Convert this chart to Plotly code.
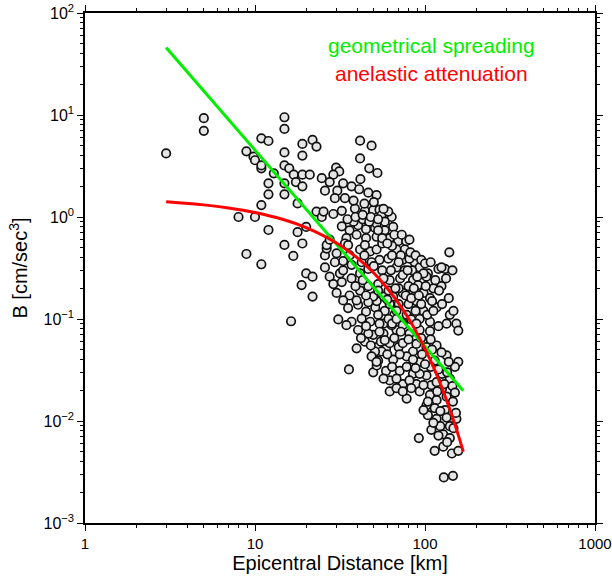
import plotly.graph_objects as go

# Observed data: epicentral distance [km] and B [cm/sec^3]
distance_km = [
    3.0, 5.0, 5.0, 10.9, 12.0, 8.9, 9.8, 10.0, 10.9, 10.9, 12.9, 12.0, 12.0, 10.9,
    14.9, 14.9, 14.9, 14.9, 14.9, 14.9, 15.9, 16.9, 17.4, 19.0, 19.0, 19.0, 19.0,
    21.0, 21.8, 23.0, 17.8, 24.7, 25.8, 23.0, 24.7, 25.3, 8.0, 10.0, 12.0, 14.9,
    8.9, 10.9, 16.8, 19.0, 17.8, 20.0, 20.0, 21.8, 25.8, 25.8, 26.4, 16.3,
    41.5, 48.5, 41.5, 47.0, 52.5, 30.0, 31.3, 28.9, 27.5, 33.0, 37.0, 41.7, 41.0,
    46.4, 51.9, 30.5, 29.5, 33.8, 28.9, 32.4, 38.7, 44.3, 49.6, 54.0, 32.4, 36.0,
    40.4, 45.0, 50.8, 34.5, 39.6, 45.0, 51.9, 26.4, 30.2, 41.5, 47.6,
    55.5, 63.7, 60.8, 51.9, 58.0, 62.0, 69.5, 77.5, 81.0, 76.0, 68.0, 51.9, 54.0,
    60.8, 68.0, 76.0, 87.0, 93.0, 104.0, 120.0, 131.0, 139.0, 125.0, 102.0, 71.4,
    85.0, 62.0, 112.0, 125.0, 53.0, 57.0, 65.0, 74.0, 85.0, 98.0, 89.0, 107.0,
    117.0, 140.0, 153.0, 134.0, 120.0, 107.0, 93.0, 78.0, 66.0, 58.0, 51.0, 74.0,
    57.0, 53.0, 58.0, 65.0, 66.0, 73.0, 74.0, 81.0, 98.0, 91.0, 80.0, 70.0, 61.0,
    51.0, 53.0, 61.0, 83.0, 98.0, 80.0, 70.0, 62.0, 52.0,
    157.0, 107.0, 93.0, 81.0, 68.0, 57.0, 49.6, 52.0, 59.0, 70.0, 85.0, 102.0,
    117.0, 134.0, 157.0, 150.0, 49.6, 53.0, 65.0, 78.0, 93.0, 114.0, 49.6, 59.0,
    71.0, 85.0, 102.0, 126.0, 140.0, 62.0, 74.0, 89.0, 109.0, 126.0, 62.0, 78.0,
    93.0, 107.0, 134.0, 102.0, 117.0, 146.0, 114.0, 131.0, 104.0, 117.0, 134.0,
    153.0, 123.0, 140.0, 109.0, 128.0, 140.0, 92.0, 114.0, 128.0, 144.0, 157.0,
    129.0, 146.0,
    54.0, 63.7, 74.0, 89.0, 62.0, 74.0, 89.0, 55.5, 71.0, 85.0, 52.0, 78.0, 93.0,
    57.0, 68.0, 81.0, 68.0, 74.0, 83.0, 98.0, 104.0, 98.0, 112.0, 120.0,
    18.8, 21.8, 27.5, 30.2, 31.6, 30.9, 39.6, 35.7, 33.0, 37.0, 33.0, 37.0, 41.5,
    46.4, 41.5, 36.0, 46.4, 49.6, 35.3, 40.4, 45.0, 37.0, 42.4, 47.6, 34.5, 40.4,
    46.4, 44.3, 50.8, 48.5, 51.9, 28.9, 32.4,
    27.5, 33.8, 35.3, 44.3, 29.5, 36.0, 42.4, 48.5, 39.6, 46.4, 33.0,
    38.0, 43.0, 47.0, 35.0, 56.0, 64.0, 72.0, 44.0, 50.0, 56.0, 63.0, 84.0, 90.0,
    57.0, 67.0, 77.0, 83.0, 95.0, 103.0, 112.0, 43.0, 39.0, 45.0, 53.0, 60.0, 68.0,
    88.0, 45.0, 55.0, 66.0, 80.0, 95.0, 108.0, 60.0, 96.0, 108.0, 120.0, 117.0,
    130.0, 64.0, 88.0, 100.0,
    39.0, 43.0, 48.0, 53.0, 57.0, 44.0, 50.0, 38.0, 56.0, 60.0,
    64.0, 70.0, 74.0, 79.0, 82.0, 88.0, 95.0, 100.0, 108.0, 86.0, 92.0, 101.0,
    110.0, 115.0, 121.0, 126.0, 133.0, 145.0, 147.0, 138.0,
    42.0, 48.0, 54.0, 58.0, 64.0, 68.0, 72.0,
    110.0, 125.0, 138.0, 145.0, 150.0, 135.0, 152.0, 147.0, 135.0, 123.0, 118.0,
]
b_value = [
    4.2, 9.3, 7.0, 5.9, 5.56, 4.4, 3.9, 3.6, 3.0, 3.2, 2.68, 2.14, 1.67, 1.31,
    9.5, 7.3, 4.3, 3.2, 2.14, 1.67, 3.0, 2.6, 2.2, 2.6, 2.0, 5.2, 4.0,
    2.6, 5.7, 4.9, 1.36, 2.4, 1.81, 1.13, 1.0, 1.13, 1.0, 1.0, 0.746, 0.532,
    0.434, 0.344, 0.415, 0.55, 0.71, 0.80, 0.28, 0.26, 0.32, 0.42, 0.49, 0.095,
    5.6, 5.0, 3.75, 3.0, 2.7, 3.05, 2.8, 2.6, 2.2, 2.14, 2.0, 2.35, 1.87,
    1.73, 1.64, 1.81, 1.53, 1.53, 1.07, 1.15, 1.21, 1.15, 1.17, 1.18, 0.81, 0.74,
    0.83, 0.76, 0.78, 0.62, 0.67, 0.62, 0.64, 0.53, 0.44, 0.48, 0.46,
    1.04, 1.0, 1.13, 0.86, 0.74, 0.62, 0.58, 0.58, 0.6, 0.48, 0.48, 0.48, 0.38,
    0.39, 0.32, 0.30, 0.36, 0.32, 0.28, 0.31, 0.31, 0.45, 0.32, 0.26, 0.25,
    0.24, 0.24, 0.20, 0.21, 0.22, 0.166, 0.166, 0.18, 0.19, 0.18, 0.15, 0.16,
    0.13, 0.11, 0.09, 0.09, 0.085, 0.094, 0.10, 0.11, 0.11, 0.12, 0.13, 0.09,
    0.09, 0.74, 0.9, 0.8, 0.67, 0.67, 0.38, 0.39, 0.28, 0.215, 0.21, 0.20, 0.19,
    0.17, 0.11, 0.10, 0.099, 0.12, 0.14, 0.14, 0.14, 0.15,
    0.077, 0.076, 0.078, 0.072, 0.078, 0.072, 0.07, 0.053, 0.051, 0.053, 0.048, 0.053,
    0.055, 0.044, 0.038, 0.034, 0.043, 0.039, 0.040, 0.043, 0.038, 0.039, 0.030, 0.031,
    0.031, 0.029, 0.028, 0.029, 0.026, 0.025, 0.023, 0.023, 0.0225, 0.0208, 0.0195, 0.0166,
    0.0195, 0.018, 0.0173, 0.0142, 0.016, 0.0155, 0.0134, 0.0128, 0.0114, 0.0105, 0.0108,
    0.0105, 0.0089, 0.0089, 0.0082, 0.0074, 0.0068, 0.0068, 0.0051, 0.0056, 0.0048, 0.0051,
    0.0028, 0.0029,
    0.09, 0.087, 0.087, 0.09, 0.058, 0.058, 0.057, 0.048, 0.045, 0.040, 0.035, 0.034, 0.029,
    0.026, 0.026, 0.025, 0.021, 0.0195, 0.021, 0.0225, 0.0155, 0.0128, 0.0096, 0.0072,
    0.215, 0.166, 0.26, 0.18, 0.28, 0.099, 0.0516, 0.032, 0.37, 0.34, 0.30, 0.25, 0.28,
    0.31, 0.19, 0.17, 0.21, 0.166, 0.128, 0.138, 0.118, 0.094, 0.101, 0.094, 0.087, 0.078,
    0.072, 0.060, 0.048, 0.043, 0.038, 0.22, 0.23,
    0.6, 0.55, 0.53, 0.53, 0.36, 0.42, 0.36, 0.36, 0.152, 0.146, 0.152,
    0.9, 0.95, 0.9, 0.95, 0.55, 0.52, 0.42, 0.42, 0.33, 0.3, 0.3, 0.3, 0.26,
    0.25, 0.2, 0.17, 0.16, 0.14, 0.11, 0.12, 0.24, 0.21, 0.17, 0.19, 0.155, 0.12,
    0.12, 0.085, 0.06, 0.065, 0.063, 0.065, 0.063, 0.045, 0.045, 0.034, 0.032, 0.024,
    0.023, 0.034, 0.033, 0.036,
    1.0, 1.05, 1.0, 0.95, 1.2, 1.35, 1.4, 1.45, 0.62, 0.55,
    0.42, 0.36, 0.27, 0.3, 0.45, 0.42, 0.38, 0.35, 0.36, 0.2, 0.17, 0.21,
    0.15, 0.24, 0.19, 0.14, 0.25, 0.3, 0.12, 0.16,
    0.065, 0.055, 0.075, 0.062, 0.09, 0.1, 0.075,
    0.05, 0.047, 0.038, 0.022, 0.019, 0.03, 0.012, 0.0085, 0.0062, 0.0125, 0.0195,
]

# Model curves
geo_distance = [3.0, 168.0]
geo_b = [46.0, 0.0198]

anel_distance = [3, 5, 7, 10, 15, 20, 30, 40, 50, 60, 70, 80, 90, 100, 110, 120,
                 130, 140, 150, 160, 168]
anel_b = [1.408, 1.315, 1.228, 1.108, 0.934, 0.787, 0.559, 0.397, 0.282, 0.2005,
          0.1424, 0.1011, 0.0719, 0.0510, 0.0363, 0.0258, 0.0183, 0.0130, 0.00923,
          0.00656, 0.00499]

x_tickvals = [1, 10, 100, 1000]
x_ticktext = ["1", "10", "100", "1000"]
y_tickvals = [1e-3, 1e-2, 1e-1, 1e0, 1e1, 1e2]
y_ticktext = ["10<sup>\u22123</sup>", "10<sup>\u22122</sup>", "10<sup>\u22121</sup>",
              "10<sup>0</sup>", "10<sup>1</sup>", "10<sup>2</sup>"]

x_minor = [m * d for d in (1, 10, 100) for m in range(2, 10)]
y_minor = [m * d for d in (1e-3, 1e-2, 1e-1, 1, 10) for m in range(2, 10)]

FONT = "Liberation Sans, Arial, Helvetica, sans-serif"

fig = go.Figure()
fig.add_trace(go.Scatter(
    x=distance_km, y=b_value, mode="markers",
    marker=dict(size=8.5, color="#e6e6e6", line=dict(color="#111111", width=1.7)),
    showlegend=False, hoverinfo="x+y"))
fig.add_trace(go.Scatter(
    x=geo_distance, y=geo_b, mode="lines",
    line=dict(color="#00ee00", width=3), showlegend=False))
fig.add_trace(go.Scatter(
    x=anel_distance, y=anel_b, mode="lines", line_shape="spline",
    line=dict(color="#ff0000", width=3), showlegend=False))

axis_common = dict(
    type="log", showgrid=False, zeroline=False,
    showline=True, linecolor="black", linewidth=1.5, mirror="ticks",
    ticks="outside", ticklen=6, tickwidth=1, tickcolor="black",
)

fig.update_xaxes(
    **axis_common, range=[0, 3],
    tickmode="array", tickvals=x_tickvals, ticktext=x_ticktext,
    tickfont=dict(size=15, color="black", family=FONT),
    minor=dict(tickmode="array", tickvals=x_minor, ticks="outside",
               ticklen=3, tickwidth=1, tickcolor="black", showgrid=False),
    title=dict(text="Epicentral Distance [km]", font=dict(size=20, color="black", family=FONT),
               standoff=3),
)
fig.update_yaxes(
    **axis_common, range=[-3, 2],
    tickmode="array", tickvals=y_tickvals, ticktext=y_ticktext,
    tickfont=dict(size=16, color="black", family=FONT),
    minor=dict(tickmode="array", tickvals=y_minor, ticks="outside",
               ticklen=3, tickwidth=1, tickcolor="black", showgrid=False),
    title=dict(text="B [cm/sec<sup>3</sup>]", font=dict(size=20, color="black", family=FONT),
               standoff=10),
)

fig.add_annotation(x=0.68, y=0.937, xref="paper", yref="paper",
                   xanchor="center", yanchor="middle",
                   text="geometrical spreading", showarrow=False,
                   font=dict(size=21, color="#00ee00", family=FONT))
fig.add_annotation(x=0.68, y=0.882, xref="paper", yref="paper",
                   xanchor="center", yanchor="middle",
                   text="anelastic attenuation", showarrow=False,
                   font=dict(size=21, color="#ff0000", family=FONT))

fig.update_layout(
    width=612, height=577,
    margin=dict(l=85, r=17, t=13, b=54, autoexpand=False),
    plot_bgcolor="white", paper_bgcolor="white",
    font=dict(family=FONT, color="black"),
)

fig.write_html(
    "out.html",
    config={"displayModeBar": False},
    post_script="document.body.style.margin='0';document.body.style.overflow='hidden';",
)
